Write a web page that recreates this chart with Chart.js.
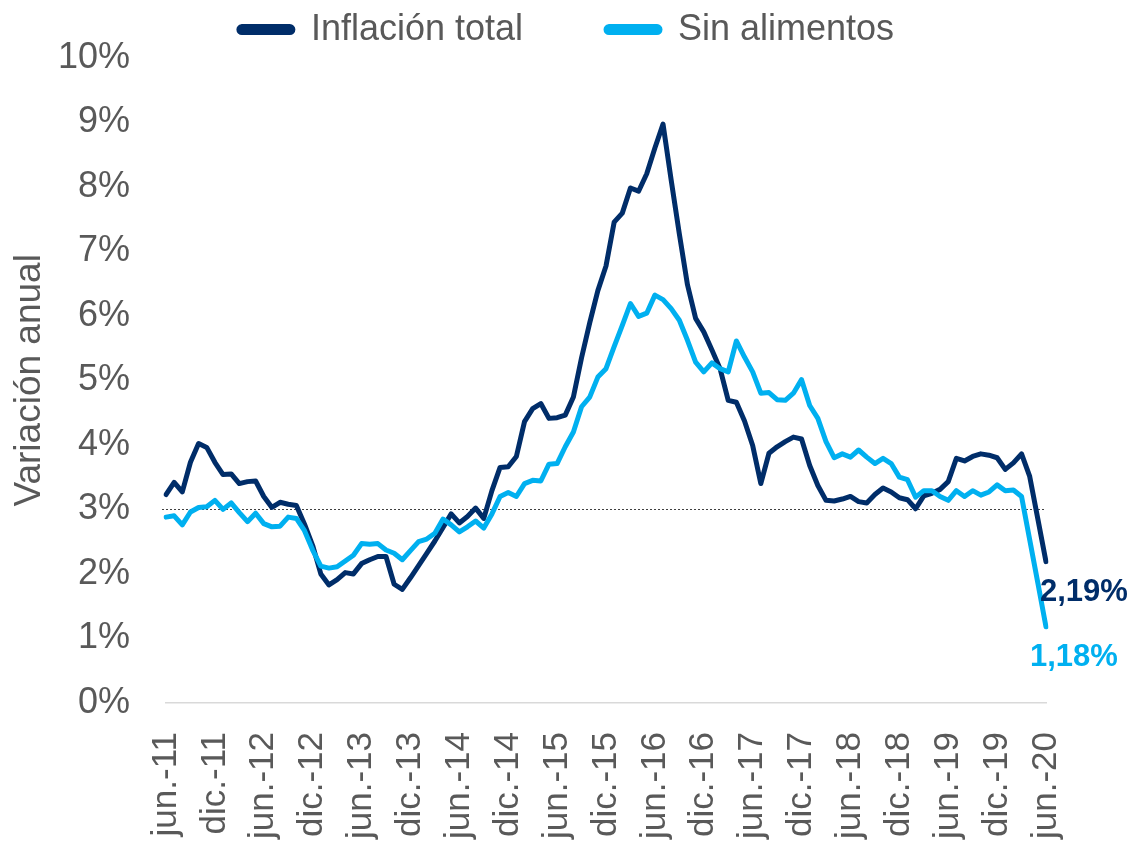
<!DOCTYPE html>
<html>
<head>
<meta charset="utf-8">
<script src="https://cdn.jsdelivr.net/npm/chart.js@4.4.0/dist/chart.umd.min.js"></script>
<style>
  html, body { margin: 0; padding: 0; background: #ffffff; }
  #wrap { width: 1133px; height: 842px; position: relative; }
</style>
</head>
<body>
<div id="wrap"><canvas id="c" width="1133" height="842"></canvas></div>
<script>
// ---------- DATA ----------
const monthNames = ['ene.', 'feb.', 'mar.', 'abr.', 'may.', 'jun.', 'jul.', 'ago.', 'sep.', 'oct.', 'nov.', 'dic.'];
const categories = [];
for (let y = 2011, m = 5; !(y === 2020 && m === 6); ) {
  categories.push(monthNames[m] + '-' + String(y).slice(2));
  m++; if (m === 12) { m = 0; y++; }
}
const tickLabels = ['jun.-11', 'dic.-11', 'jun.-12', 'dic.-12', 'jun.-13', 'dic.-13', 'jun.-14', 'dic.-14',
  'jun.-15', 'dic.-15', 'jun.-16', 'dic.-16', 'jun.-17', 'dic.-17', 'jun.-18', 'dic.-18', 'jun.-19', 'dic.-19', 'jun.-20'];
const yTickValues = [0, 1, 2, 3, 4, 5, 6, 7, 8, 9, 10];
const referenceLevel = 3;

// Inflación total (%), jun.-11 .. jun.-20
const inflacionTotal = [
  3.23, 3.42, 3.27, 3.73, 4.02, 3.96, 3.73,
  3.54, 3.55, 3.40, 3.43, 3.44, 3.20, 3.03, 3.11, 3.08, 3.06, 2.77, 2.44,
  2.00, 1.83, 1.91, 2.02, 2.00, 2.16, 2.22, 2.27, 2.27, 1.84, 1.76, 1.94,
  2.13, 2.32, 2.51, 2.72, 2.93, 2.79, 2.89, 3.02, 2.86, 3.29, 3.65, 3.66,
  3.82, 4.36, 4.56, 4.64, 4.41, 4.42, 4.46, 4.74, 5.35, 5.89, 6.39, 6.77,
  7.45, 7.59, 7.98, 7.93, 8.20, 8.60, 8.97, 8.10, 7.27, 6.48, 5.96, 5.75,
  5.47, 5.18, 4.69, 4.66, 4.37, 3.99, 3.40, 3.87, 3.97, 4.05, 4.12, 4.09,
  3.68, 3.37, 3.14, 3.13, 3.16, 3.20, 3.12, 3.10, 3.23, 3.33, 3.27, 3.18,
  3.15, 3.01, 3.21, 3.25, 3.31, 3.43, 3.79, 3.75, 3.82, 3.86, 3.84, 3.80,
  3.62, 3.72, 3.86, 3.51, 2.85, 2.19
];

// Sin alimentos (%), jun.-11 .. jun.-20
const sinAlimentos = [
  2.88, 2.90, 2.76, 2.96, 3.03, 3.04, 3.14,
  3.00, 3.10, 2.95, 2.81, 2.94, 2.78, 2.73, 2.74, 2.88, 2.86, 2.67, 2.37,
  2.12, 2.09, 2.11, 2.20, 2.29, 2.47, 2.46, 2.47, 2.37, 2.32, 2.22, 2.36,
  2.50, 2.54, 2.63, 2.85, 2.76, 2.65, 2.73, 2.82, 2.71, 2.93, 3.20, 3.26,
  3.20, 3.40, 3.45, 3.44, 3.70, 3.71, 3.97, 4.20, 4.59, 4.74, 5.05, 5.18,
  5.52, 5.85, 6.19, 5.99, 6.04, 6.32, 6.25, 6.11, 5.93, 5.62, 5.28, 5.13,
  5.27, 5.18, 5.13, 5.61, 5.36, 5.13, 4.80, 4.81, 4.70, 4.69, 4.80, 5.01,
  4.61, 4.41, 4.05, 3.80, 3.86, 3.81, 3.92, 3.81, 3.71, 3.79, 3.71, 3.50,
  3.46, 3.19, 3.29, 3.29, 3.20, 3.14, 3.29, 3.20, 3.29, 3.22, 3.27, 3.38,
  3.29, 3.30, 3.20, 2.53, 1.86, 1.18
];

// ---------- STYLE ----------
const FONT = "'Liberation Sans', Arial, Helvetica, sans-serif";
const GRAY = '#595959';
const DARK = '#002D69';
const LIGHT = '#00B0F0';

const refLinePlugin = {
  id: 'refLine',
  beforeDatasetsDraw(chart) {
    const { ctx, chartArea, scales } = chart;
    const y = Math.round(scales.y.getPixelForValue(referenceLevel)) + 0.5;
    ctx.save();
    ctx.strokeStyle = '#404040';
    ctx.lineWidth = 1;
    ctx.setLineDash([2, 2]);
    ctx.beginPath();
    ctx.moveTo(chartArea.left - 4, y);
    ctx.lineTo(chartArea.right, y);
    ctx.stroke();
    ctx.restore();
  }
};

const endLabelPlugin = {
  id: 'endLabels',
  afterDatasetsDraw(chart) {
    const { ctx } = chart;
    const offsets = [{ dx: -6, dy: 31 }, { dx: -16, dy: 31 }];
    ctx.save();
    ctx.font = 'bold 31px ' + FONT;
    ctx.textAlign = 'left';
    ctx.textBaseline = 'middle';
    chart.data.datasets.forEach((ds, i) => {
      const meta = chart.getDatasetMeta(i);
      const pt = meta.data[meta.data.length - 1];
      const v = ds.data[ds.data.length - 1];
      ctx.fillStyle = ds.borderColor;
      ctx.fillText(v.toFixed(2).replace('.', ',') + '%', pt.x + offsets[i].dx, pt.y + offsets[i].dy);
    });
    ctx.restore();
  }
};

new Chart(document.getElementById('c'), {
  type: 'line',
  data: {
    labels: categories,
    datasets: [
      {
        label: 'Inflación total', data: inflacionTotal,
        borderColor: DARK, backgroundColor: DARK, borderWidth: 5,
        pointRadius: 0, pointHoverRadius: 0, tension: 0,
        borderJoinStyle: 'round', borderCapStyle: 'round', order: 1
      },
      {
        label: 'Sin alimentos', data: sinAlimentos,
        borderColor: LIGHT, backgroundColor: LIGHT, borderWidth: 5,
        pointRadius: 0, pointHoverRadius: 0, tension: 0,
        borderJoinStyle: 'round', borderCapStyle: 'round', order: 0
      }
    ]
  },
  options: {
    responsive: false,
    animation: false,
    devicePixelRatio: 1,
    layout: { padding: { top: -72, left: 0, right: 0, bottom: 0 } },
    plugins: {
      tooltip: { enabled: false },
      legend: {
        position: 'top',
        align: 'center',
        labels: {
          color: GRAY,
          font: { family: FONT, size: 36 },
          boxWidth: 54,
          boxHeight: 6,
          useBorderRadius: true,
          borderRadius: 3,
          padding: 83,
          sort: (a, b) => a.datasetIndex - b.datasetIndex
        }
      }
    },
    scales: {
      x: {
        type: 'category',
        offset: false,
        grid: { display: false, drawTicks: false },
        border: { display: true, color: '#D9D9D9', width: 1.5 },
        ticks: {
          autoSkip: false,
          minRotation: 90,
          maxRotation: 90,
          padding: 29,
          color: GRAY,
          font: { family: FONT, size: 35 },
          callback(value, index) {
            const l = categories[index];
            return tickLabels.includes(l) ? l : '';
          }
        },
        afterFit(scale) { scale.height = 139; }
      },
      y: {
        min: 0, max: 10,
        afterBuildTicks(scale) { scale.ticks = yTickValues.map(v => ({ value: v })); },
        grid: { display: false, drawTicks: false },
        border: { display: false },
        ticks: {
          padding: 36,
          color: GRAY,
          font: { family: FONT, size: 36 },
          callback: v => v + '%'
        },
        title: {
          display: true,
          text: 'Variación anual',
          color: GRAY,
          font: { family: FONT, size: 37 },
          padding: { top: 8, bottom: 0 }
        },
        afterFit(scale) { scale.width = 166; }
      },
      yR: {
        position: 'right',
        display: true,
        grid: { display: false, drawTicks: false },
        border: { display: false },
        ticks: { display: false },
        afterFit(scale) { scale.width = 87; }
      }
    }
  },
  plugins: [refLinePlugin, endLabelPlugin]
});
</script>
</body>
</html>
